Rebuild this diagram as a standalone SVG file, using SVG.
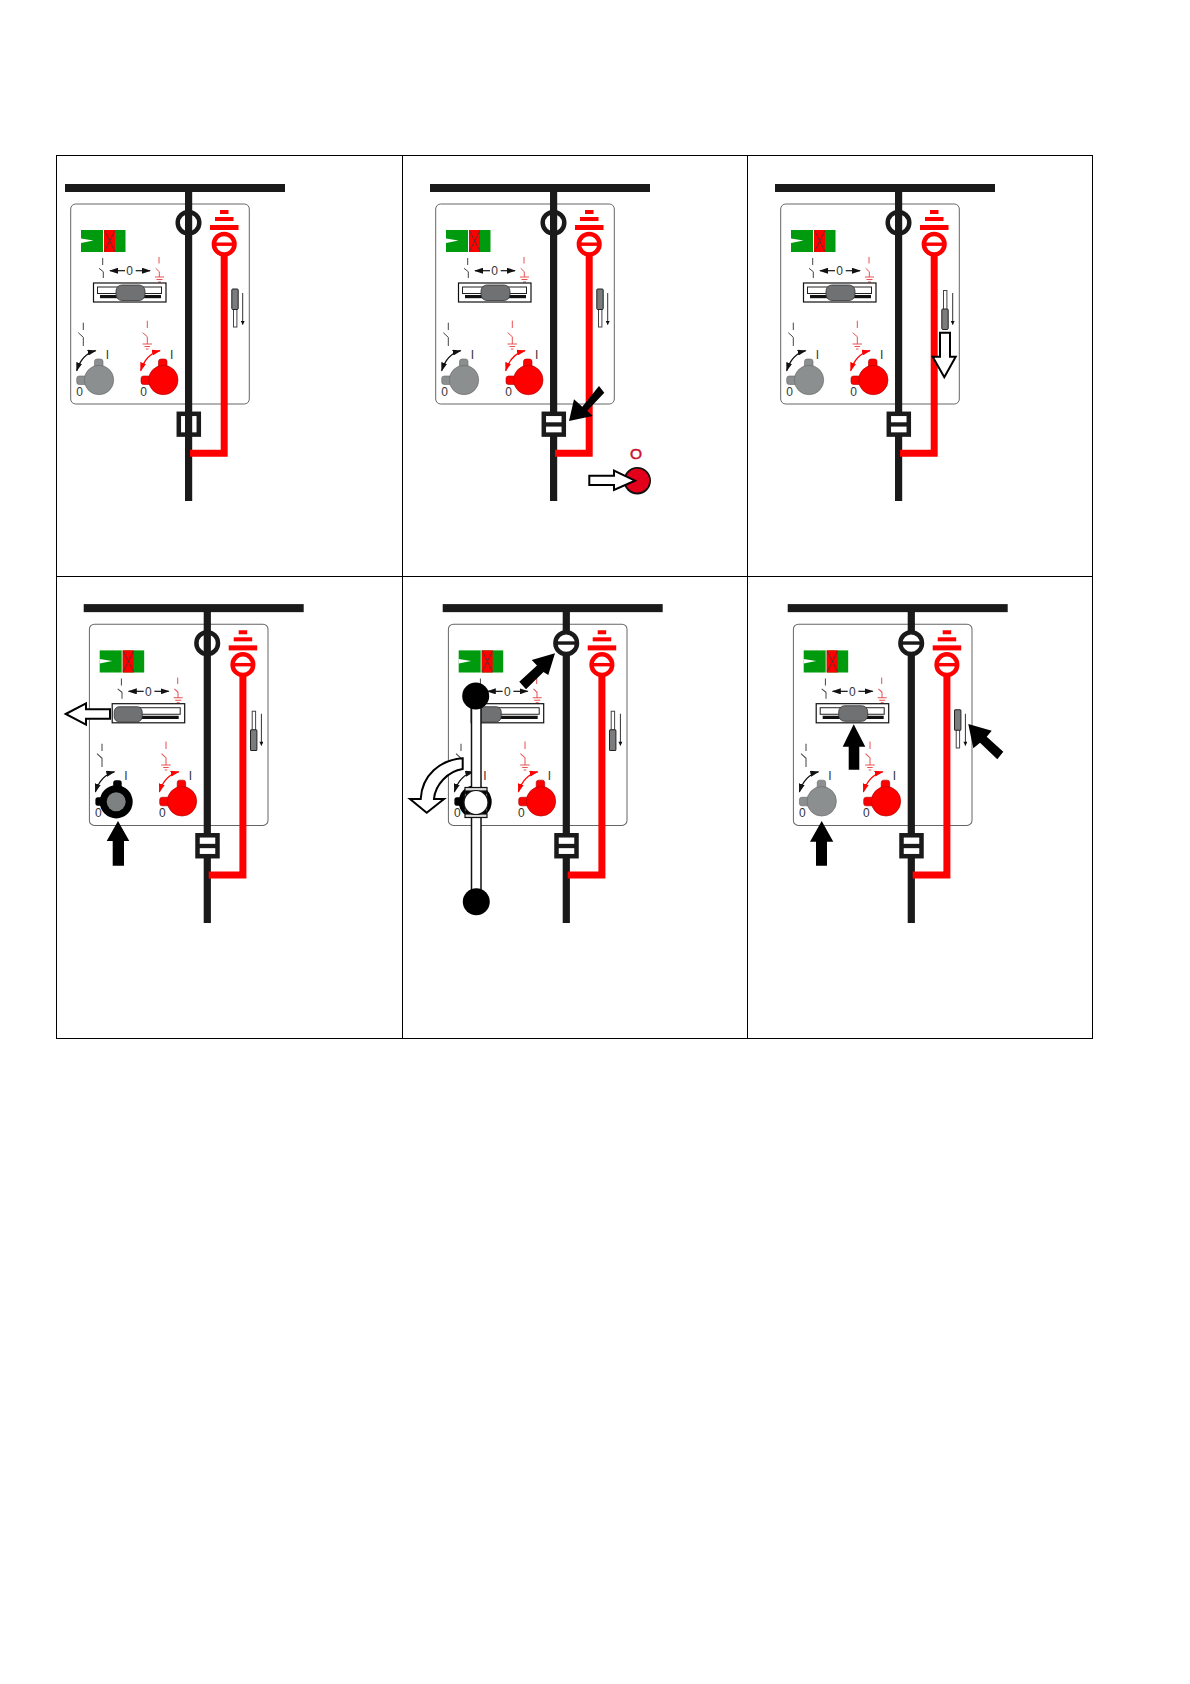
<svg xmlns="http://www.w3.org/2000/svg" width="1190" height="1684" viewBox="0 0 1190 1684">
<style>
text{font-family:"Liberation Sans",Arial,sans-serif;text-anchor:middle}
.t0{font-size:12px;fill:#333;opacity:.99}
.grid{stroke:#000;stroke-width:1;fill:none}
.k{fill:#1a1a1a}
.r{fill:#f00}
.thin{stroke:#444;stroke-width:1;fill:none}
.thinr{stroke:#e85050;stroke-width:1;fill:none}
.big{fill:#000}
.hollow{fill:#fff;stroke:#000;stroke-width:2;stroke-linejoin:miter}
</style>
<defs>
<marker id="ah" viewBox="0 0 10 10" refX="9" refY="5" markerWidth="9" markerHeight="6" markerUnits="userSpaceOnUse" orient="auto-start-reverse" preserveAspectRatio="none"><path d="M0 0L10 5L0 10Z" fill="#111"/></marker>
<marker id="ahs" viewBox="0 0 10 10" refX="9" refY="5" markerWidth="5" markerHeight="4" markerUnits="userSpaceOnUse" orient="auto"><path d="M0 0L10 5L0 10Z" fill="#111"/></marker>
<marker id="ahr" viewBox="0 0 10 10" refX="9" refY="5" markerWidth="9" markerHeight="6" markerUnits="userSpaceOnUse" orient="auto-start-reverse" preserveAspectRatio="none"><path d="M0 0L10 5L0 10Z" fill="#f00"/></marker>
<g id="base">
<rect x="70.700" y="204" width="178.600" height="200" rx="5" fill="#fff" stroke="#666" stroke-width="1"/>
<rect class="k" x="65" y="184" width="220" height="8"/>
<rect class="k" x="185" y="188" width="7.200" height="313"/>
<path d="M224.200 250V453.300H190" fill="none" stroke="#f00" stroke-width="7"/>
<rect class="r" x="220" y="210" width="8.500" height="4"/>
<rect class="r" x="215" y="217" width="18.500" height="4"/>
<rect class="r" x="210" y="225" width="28.500" height="5"/>
<circle cx="224.200" cy="244.200" r="10.300" fill="#fff" stroke="#f00" stroke-width="4.500"/>
<rect class="r" x="214" y="242.500" width="20" height="3.400"/>
<rect x="81" y="230" width="22" height="22" fill="#009a0e"/>
<path d="M81 238.500L93.500 240.500L81 243Z" fill="#fff"/>
<rect x="104" y="230" width="21.500" height="22" fill="#009a0e"/>
<rect x="104" y="230" width="11" height="22" fill="#f00"/>
<path d="M104.500 230.500L115 251.500M115 230.500L104.500 251.500" stroke="#333" stroke-width=".7"/>
<path class="thin" d="M102.700 258V265M99 268.300L103.300 271.700V278"/>
<path class="thinr" d="M159 257V263.500M155.700 268.300L159.300 271.700V277M155 277H164M156.500 279.500H162.500M158 282H161"/>
<path d="M125 270.700H110" stroke="#111" stroke-width="1.200" fill="none" marker-end="url(#ah)"/>
<path d="M135.700 270.700H150" stroke="#111" stroke-width="1.200" fill="none" marker-end="url(#ah)"/>
<path class="thin" d="M83.300 322.700V330M78.300 332.700L83.300 337.300V346"/>
<path class="thinr" d="M147.300 320.700V328M142.700 332.700L147.300 336.700V344M142.500 344H152M144.500 346.500H150M146 349H148.500"/>
<path d="M95.700 350.700Q82 354 76.700 370.700" stroke="#111" stroke-width="1.200" fill="none" marker-start="url(#ah)" marker-end="url(#ah)"/>
<path d="M160 350.700Q146 354 140.700 370.700" stroke="#f00" stroke-width="1.200" fill="none" marker-start="url(#ahr)" marker-end="url(#ahr)"/>
<g fill="#f00" stroke="#a00" stroke-width=".6">
<rect x="158.500" y="359" width="8.500" height="14" rx="2.500"/>
<rect x="141" y="376" width="14" height="8.500" rx="2.500"/>
<circle cx="163.300" cy="380" r="14.700"/>
</g>
</g>
<g id="slider-frame">
<rect x="93.500" y="283" width="72.500" height="19" fill="#fff" stroke="#111" stroke-width="1.200"/>
</g>
<g id="slider-mid">
<use href="#slider-frame"/>
<rect x="97.500" y="287" width="64" height="6.500" fill="#fff" stroke="#222" stroke-width="1"/>
<rect x="100" y="295" width="61" height="3.200" fill="#111"/>
<rect x="116" y="285" width="29" height="15.500" rx="6" fill="#6f7173" stroke="#333" stroke-width=".8"/>
</g>
<g id="slider-left">
<use href="#slider-frame"/>
<rect x="118" y="287" width="43.500" height="6.500" fill="#fff" stroke="#222" stroke-width="1"/>
<rect x="118" y="295" width="42" height="3.200" fill="#111"/>
<rect x="95.500" y="286" width="28" height="15" rx="5" fill="#6f7173" stroke="#333" stroke-width=".8"/>
</g>
<g id="knob-gray" fill="#8b8f90" stroke="#666" stroke-width=".6">
<rect x="94.500" y="359" width="8.500" height="14" rx="2.500"/>
<rect x="76.700" y="376" width="14" height="8.500" rx="2.500"/>
<circle cx="99" cy="380" r="14.700"/>
</g>
<g id="knob-black">
<rect x="94.500" y="359" width="8.500" height="14" rx="2.500" fill="#000"/>
<rect x="76.700" y="376" width="14" height="8.500" rx="2.500" fill="#000"/>
<circle cx="97.500" cy="380.500" r="16.500" fill="#000"/>
<circle cx="97.500" cy="380.500" r="9.500" fill="#7e8182"/>
</g>
<g id="circle-open">
<circle cx="188.500" cy="222.800" r="10.800" fill="#fff" stroke="#1a1a1a" stroke-width="4.500"/>
<rect class="k" x="185" y="212" width="7.200" height="21"/>
</g>
<g id="circle-closed">
<circle cx="188.500" cy="222.800" r="10.800" fill="#fff" stroke="#1a1a1a" stroke-width="4.500"/>
<rect class="k" x="178" y="221" width="21" height="3.400"/>
</g>
<g id="fuse-open">
<rect x="178.800" y="413.800" width="20" height="20.800" fill="#fff" stroke="#1a1a1a" stroke-width="4.500"/>
<rect class="k" x="185" y="414" width="7.200" height="20"/>
</g>
<g id="fuse-closed">
<rect x="178.800" y="413.800" width="20" height="20.800" fill="#fff" stroke="#1a1a1a" stroke-width="4.500"/>
<rect class="k" x="179" y="422.300" width="19.500" height="4.300"/>
</g>
<g id="pin-top">
<rect x="233.500" y="305" width="3.400" height="22" fill="#fff" stroke="#444" stroke-width="1"/>
<rect x="231.800" y="289" width="6.400" height="20.500" rx="1" fill="#7a7c7e" stroke="#222" stroke-width="1"/>
<path d="M242.700 293V324.500" stroke="#333" stroke-width="1" fill="none" marker-end="url(#ahs)"/>
</g>
<g id="pin-bottom">
<rect x="233.500" y="290.500" width="3.400" height="20" fill="#fff" stroke="#444" stroke-width="1"/>
<rect x="231.800" y="309" width="6.400" height="20.500" rx="1" fill="#7a7c7e" stroke="#222" stroke-width="1"/>
<path d="M242.700 293V324.500" stroke="#333" stroke-width="1" fill="none" marker-end="url(#ahs)"/>
</g>
</defs>

<g id="grid" class="grid">
<rect x="56.500" y="155.500" width="1036" height="883"/>
<path d="M402.500 155.500V1038.500M747.500 155.500V1038.500M56.500 576.500H1092.500"/>
</g>

<g id="panel-1">
<use href="#base"/><use href="#slider-mid"/><use href="#knob-gray"/><use href="#circle-open"/><use href="#fuse-open"/><use href="#pin-top"/>
<text class="t0" x="129.700" y="275">0</text><text class="t0" x="79.700" y="396">0</text><text class="t0" x="107.300" y="359">I</text><text class="t0" x="143.700" y="396">0</text><text class="t0" x="171.700" y="359">I</text>
</g>
<g id="panel-2" transform="translate(365 0)">
<use href="#base"/><use href="#slider-mid"/><use href="#knob-gray"/><use href="#circle-open"/><use href="#fuse-closed"/><use href="#pin-top"/>
<text class="t0" x="129.700" y="275">0</text><text class="t0" x="79.700" y="396">0</text><text class="t0" x="107.300" y="359">I</text><text class="t0" x="143.700" y="396">0</text><text class="t0" x="171.700" y="359">I</text>
</g>
<g id="panel-3" transform="translate(710 0)">
<use href="#base"/><use href="#slider-mid"/><use href="#knob-gray"/><use href="#circle-open"/><use href="#fuse-closed"/><use href="#pin-bottom"/>
<text class="t0" x="129.700" y="275">0</text><text class="t0" x="79.700" y="396">0</text><text class="t0" x="107.300" y="359">I</text><text class="t0" x="143.700" y="396">0</text><text class="t0" x="171.700" y="359">I</text>
</g>
<g id="panel-4" transform="translate(18.700 419) scale(1 1.006)">
<use href="#base"/><use href="#slider-left"/><use href="#knob-black"/><use href="#circle-open"/><use href="#fuse-closed"/><use href="#pin-bottom"/>
<text class="t0" x="129.700" y="275">0</text><text class="t0" x="79.700" y="396">0</text><text class="t0" x="107.300" y="359">I</text><text class="t0" x="143.700" y="396">0</text><text class="t0" x="171.700" y="359">I</text>
</g>
<g id="panel-5" transform="translate(377.700 419) scale(1 1.006)">
<use href="#base"/><use href="#slider-left"/><use href="#knob-black"/><use href="#circle-closed"/><use href="#fuse-closed"/><use href="#pin-bottom"/>
<text class="t0" x="129.700" y="275">0</text><text class="t0" x="79.700" y="396">0</text><text class="t0" x="107.300" y="359">I</text><text class="t0" x="143.700" y="396">0</text><text class="t0" x="171.700" y="359">I</text>
</g>
<g id="panel-6" transform="translate(722.700 419) scale(1 1.006)">
<use href="#base"/><use href="#slider-mid"/><use href="#knob-gray"/><use href="#circle-closed"/><use href="#fuse-closed"/><use href="#pin-top"/>
<text class="t0" x="129.700" y="275">0</text><text class="t0" x="79.700" y="396">0</text><text class="t0" x="107.300" y="359">I</text><text class="t0" x="143.700" y="396">0</text><text class="t0" x="171.700" y="359">I</text>
</g>

<g id="handle">
<rect x="471.500" y="700" width="9.500" height="200" fill="#fff" stroke="#111" stroke-width="1.500"/>
<path d="M466 790Q462 802 466 815M486 790Q490 802 486 815" fill="#fff" stroke="#111" stroke-width="1.500"/>
<rect x="465" y="787.500" width="22" height="3.500" fill="#ddd" stroke="#111" stroke-width="1.200"/>
<rect x="465" y="814" width="22" height="3.500" fill="#ddd" stroke="#111" stroke-width="1.200"/>
<circle cx="476" cy="802.500" r="12" fill="#fff" stroke="#111" stroke-width="1.200"/>
<circle cx="475.700" cy="696" r="13.500" fill="#000"/>
<circle cx="476.300" cy="901.700" r="13.500" fill="#000"/>
</g>

<g id="arrows">
<polygon class="big" points="569,421 574,399.300 582.300,406.700 599,386 604.300,392.700 587.300,410.700 592.700,416"/>
<circle cx="637.300" cy="480.700" r="12.800" fill="#e2001a" stroke="#111" stroke-width="1.800"/>
<text x="636" y="459" font-size="15.500" fill="#c8102e" stroke="#c8102e" stroke-width=".5" opacity=".99">O</text>
<polygon class="hollow" points="589.300,475.700 614,475.700 614,470.700 635,480.700 614,490 614,485 589.300,485"/>
<polygon class="hollow" points="940,332.700 950,332.700 950,356.700 955.700,356.700 944.300,377.300 932.700,356.700 940,356.700"/>
<polygon class="hollow" points="65.700,714 86,703.300 86,709.300 110,709.300 110,718.700 86,718.700 86,724.700"/>
<polygon class="big" points="118,821 129.300,841 124,841 124,865.700 112.700,865.700 112.700,841 106.700,841"/>
<path class="hollow" d="M462.700 758.300C440 760 422 775 420.700 799L410 799L426.700 812.700L444 799L434 799C435 785 448 771 462.700 769Z"/>
<polygon class="big" points="555,653.300 531.700,660 537,665.500 519.300,681.700 526,689.300 543.500,672 548.300,675"/>
<polygon class="big" points="853.700,724.300 865.300,746.700 859.300,746.700 859.300,769.700 848.700,769.700 848.700,746.700 842.700,746.700"/>
<polygon class="big" points="821.700,821 833.300,841.700 827,841.700 827,865.700 816,865.700 816,841.700 810,841.700"/>
<polygon class="big" points="968.300,724 991.700,730.700 986.700,736.700 1003.300,751.700 997.300,759.300 980,742.700 973.300,748.300"/>
</g>
</svg>
